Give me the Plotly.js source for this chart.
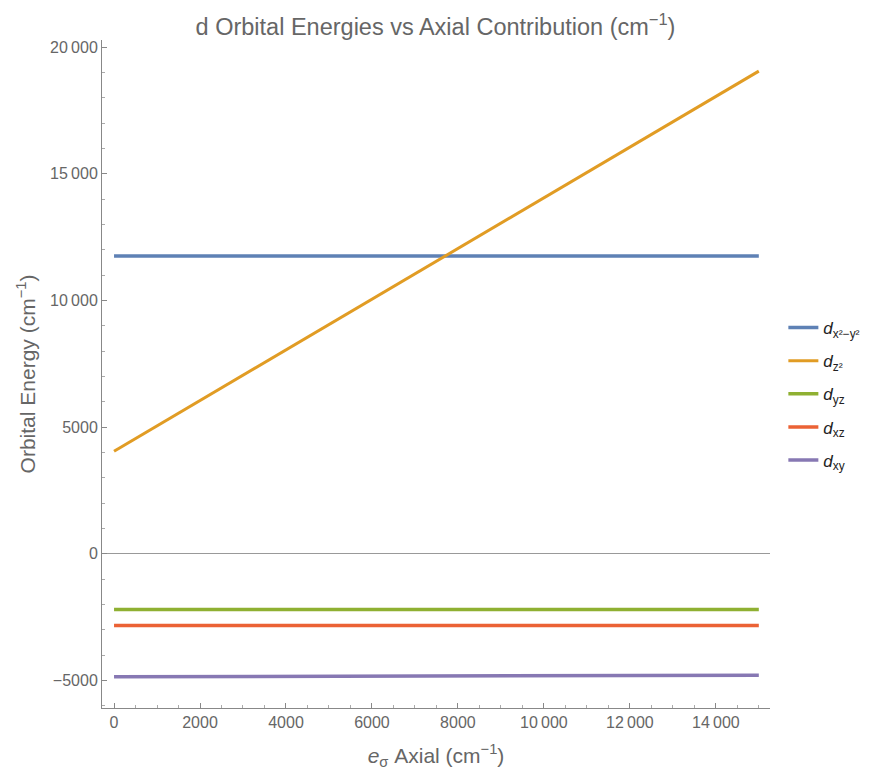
<!DOCTYPE html>
<html>
<head>
<meta charset="utf-8">
<script src="https://cdn.plot.ly/plotly-3.0.1.min.js"></script>
<style>body{margin:0;padding:0;background:#fff;}</style>
</head>
<body>
<div id="chart" style="width:871px;height:770px;"></div>
<script>
// Data
const xAxial = [0, 15000];
const dx2y2 = [11750, 11750];
const dz2 = [4050, 19050];
const dyz = [-2200, -2200];
const dxz = [-2830, -2830];
const dxy = [-4850, -4790];

const seriesNames = [
  "<i>d</i><sub>x²−y²</sub>",
  "<i>d</i><sub>z²</sub>",
  "<i>d</i><sub>yz</sub>",
  "<i>d</i><sub>xz</sub>",
  "<i>d</i><sub>xy</sub>"
];
const seriesColors = ["#5E81B5", "#E19C24", "#8FB032", "#EB6235", "#8778B3"];
const seriesY = [dx2y2, dz2, dyz, dxz, dxy];

const xTickVals = [0, 2000, 4000, 6000, 8000, 10000, 12000, 14000];
const xTickText = ["0", "2000", "4000", "6000", "8000", "10\u2009000", "12\u2009000", "14\u2009000"];
const yTickVals = [-5000, 0, 5000, 10000, 15000, 20000];
const yTickText = ["\u22125000", "0", "5000", "10\u2009000", "15\u2009000", "20\u2009000"];

const traces = seriesY.map((ys, i) => ({
  x: xAxial,
  y: ys,
  type: "scatter",
  mode: "lines",
  name: seriesNames[i],
  legendgroup: "g" + i,
  line: {color: seriesColors[i], width: i === 1 ? 3 : 3.5}
}));

const fam = "Liberation Sans, Arial, sans-serif";

const layout = {
  width: 871,
  height: 770,
  margin: {l: 102, r: 101, t: 40, b: 62, autoexpand: false},
  paper_bgcolor: "#ffffff",
  plot_bgcolor: "#ffffff",
  font: {family: fam, size: 16, color: "#666666"},
  title: {
    text: "d Orbital Energies vs Axial Contribution (cm<sup>\u22121</sup>)",
    font: {family: fam, size: 23.5, color: "#666666"},
    x: 0.5, xanchor: "center", y: 0.965, yanchor: "middle"
  },
  xaxis: {
    range: [-280, 15260],
    showgrid: false,
    zeroline: false,
    showline: true,
    linecolor: "#888888",
    linewidth: 1,
    ticks: "inside",
    ticklen: 5,
    tickcolor: "#888888",
    tickmode: "array",
    tickvals: xTickVals,
    ticktext: xTickText,
    tickfont: {family: fam, size: 16, color: "#666666"},
    minor: {tickmode: "linear", tick0: 0, dtick: 500, ticks: "inside", ticklen: 3, tickcolor: "#aaaaaa"},
    title: {
      text: "<i>e</i><sub>σ</sub> Axial (cm<sup>\u22121</sup>)",
      font: {family: fam, size: 21, color: "#666666"},
      standoff: 20
    }
  },
  yaxis: {
    range: [-6085, 20280],
    showgrid: false,
    zeroline: true,
    zerolinecolor: "#999999",
    zerolinewidth: 1,
    showline: true,
    linecolor: "#888888",
    linewidth: 1,
    ticks: "inside",
    ticklen: 5,
    tickcolor: "#888888",
    tickmode: "array",
    tickvals: yTickVals,
    ticktext: yTickText,
    tickfont: {family: fam, size: 16, color: "#666666"},
    minor: {tickmode: "linear", tick0: 0, dtick: 1000, ticks: "inside", ticklen: 3, tickcolor: "#aaaaaa"},
    title: {
      text: "Orbital Energy (cm<sup>\u22121</sup>)",
      font: {family: fam, size: 21, color: "#666666"},
      standoff: 8
    }
  },
  legend: {
    x: 1.02, xanchor: "left",
    y: 0.47, yanchor: "middle",
    font: {family: fam, size: 17, color: "#222222"},
    bgcolor: "rgba(0,0,0,0)",
    itemwidth: 30,
    tracegroupgap: 8
  },
  showlegend: true
};

Plotly.newPlot("chart", traces, layout, {displayModeBar: false, staticPlot: true});
</script>
</body>
</html>
